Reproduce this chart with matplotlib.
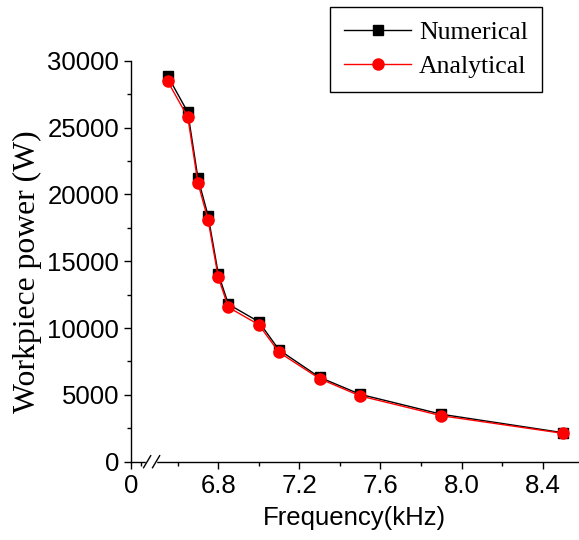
"""Workpiece power vs frequency: numerical and analytical results."""
import numpy as np
import matplotlib; matplotlib.use("Agg")
import matplotlib.pyplot as plt
from matplotlib.ticker import FixedLocator

plt.rcParams["font.family"] = ["Liberation Sans", "DejaVu Sans"]

freq = [6.55, 6.65, 6.70, 6.75, 6.80, 6.85, 7.00, 7.10, 7.30, 7.50, 7.90, 8.50]
numerical = [28880, 26140, 21200, 18400, 14070, 11780, 10470, 8360, 6310, 5040, 3550, 2170]
analytical = [28480, 25770, 20850, 18080, 13800, 11550, 10250, 8180, 6210, 4920, 3440, 2120]

X0 = 6.370  # left end of the axis, labelled "0" (axis break)
SERIF = ["Liberation Serif", "DejaVu Serif"]


def main():
    fig = plt.figure(figsize=(5.79, 5.40), dpi=100)
    ax = fig.add_axes([0.2263, 0.145, 0.7727, 0.7426])

    ax.plot(freq, numerical, "-s", color="black", lw=1.0, ms=7,
            label="Numerical", zorder=3, clip_on=False)
    ax.plot(freq, analytical, "-o", color="red", lw=1.0, ms=8,
            label="Analytical", zorder=4, clip_on=False)

    ax.set_xlim(X0, 8.576)
    ax.set_ylim(0, 30000)
    ax.set_xticks([X0, 6.8, 7.2, 7.6, 8.0, 8.4])
    ax.set_xticklabels(["0", "6.8", "7.2", "7.6", "8.0", "8.4"])
    ax.xaxis.set_minor_locator(FixedLocator([6.42, 6.6, 7.0, 7.4, 7.8, 8.2]))
    ax.set_yticks(np.arange(0, 30001, 5000))
    ax.yaxis.set_minor_locator(FixedLocator(np.arange(2500, 30000, 5000)))
    ax.tick_params(which="major", direction="out", length=5, width=1,
                   labelsize=18.5, pad=3.5)
    ax.tick_params(which="minor", direction="out", length=3, width=1)

    for sp in ["top", "right"]:
        ax.spines[sp].set_visible(False)
    for sp in ["left", "bottom"]:
        ax.spines[sp].set_linewidth(1)

    ax.set_xlabel("Frequency(kHz)", fontsize=18.5, labelpad=6)
    ax.set_ylabel("Workpiece power (W)", fontsize=22.8, family=SERIF)
    ax.yaxis.set_label_coords(-0.199, 0.474)

    # axis break marks
    tr = ax.transAxes
    xa, xb = 0.028, 0.062
    ax.add_patch(plt.Rectangle((xa + 0.006, -0.01), xb - xa - 0.012, 0.02,
                               transform=tr, color="white", clip_on=False,
                               zorder=5))
    for x in (xa, xa + 0.02):
        ax.plot([x, x + 0.016], [-0.015, 0.015], color="black", lw=1,
                transform=tr, clip_on=False, zorder=6)

    leg = ax.legend(loc="upper right", bbox_to_anchor=(0.936, 0.9876),
                    bbox_transform=fig.transFigure, prop={"family": SERIF,
                    "size": 18.5}, fancybox=False, edgecolor="black",
                    framealpha=1, handlelength=2.6, borderpad=0.55,
                    labelspacing=0.45, handletextpad=0.3, borderaxespad=0)
    leg.get_frame().set_linewidth(1)

    fig.savefig("out.png", dpi=100, facecolor="white")


if __name__ == "__main__":
    main()
